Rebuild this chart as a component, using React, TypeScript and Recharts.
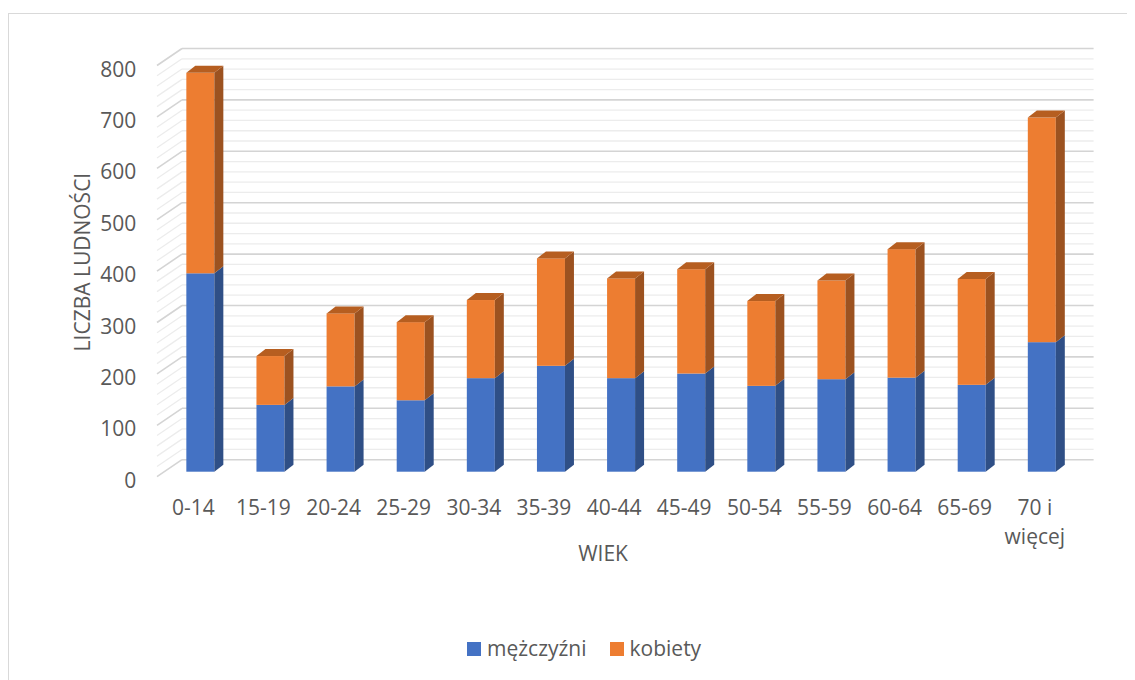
import React from 'react';
import { BarChart, Bar, XAxis, YAxis, CartesianGrid, Legend, Label } from 'recharts';

const categories = ['0-14', '15-19', '20-24', '25-29', '30-34', '35-39', '40-44', '45-49', '50-54', '55-59', '60-64', '65-69', '70 i więcej'];
const menValues = [386, 130, 166, 139, 182, 206, 182, 191, 167, 180, 183, 169, 252];
const womenValues = [390, 95, 142, 152, 152, 209, 194, 203, 165, 192, 250, 206, 437];
const seriesNames = ['mężczyźni', 'kobiety'];
const yTicks = [0, 20, 40, 60, 80, 100, 120, 140, 160, 180, 200, 220, 240, 260, 280, 300, 320, 340, 360, 380, 400, 420, 440, 460, 480, 500, 520, 540, 560, 580, 600, 620, 640, 660, 680, 700, 720, 740, 760, 780, 800];
const yLabelStep = 100;
const xTitle = 'WIEK';
const yTitle = 'LICZBA LUDNOŚCI';

const data = categories.map((c, i) => ({ age: c, men: menValues[i], women: womenValues[i] }));

const W = 1127;
const H = 672;
const FONT = "'Open Sans', sans-serif";
const TEXT = '#595959';
const BLUE = '#4472C4';
const BLUE_SIDE = '#2F4F86';
const ORANGE = '#ED7D31';
const ORANGE_SIDE = '#9C5220';
const ORANGE_TOP = '#B65E20';

const DEPTH_X = 9;
const DEPTH_Y = 7;
const WALL_DX = 16.7;
const WALL_DY = -12;
const SIDE_DX = -25;
const SIDE_DY = 17;

const makeBox = (sideColor: string, topColor: string | null) => (p: any) => {
  const { x, y, width, height, fill } = p;
  if (!height || height <= 0) return <g />;
  const r = x + width;
  return (
    <g>
      <rect x={x} y={y} width={width} height={height} fill={fill} />
      <polygon
        points={`${r},${y} ${r + DEPTH_X},${y - DEPTH_Y} ${r + DEPTH_X},${y + height - DEPTH_Y} ${r},${y + height}`}
        fill={sideColor}
      />
      {topColor && (
        <polygon
          points={`${x},${y} ${x + DEPTH_X},${y - DEPTH_Y} ${r + DEPTH_X},${y - DEPTH_Y} ${r},${y}`}
          fill={topColor}
        />
      )}
    </g>
  );
};

const gridLine = (p: any) => {
  const { x1, x2, y1, y, height, index } = p;
  const v = Math.round((((y + height - y1) / height) * 800) / 20) * 20;
  const major = v % 100 === 0;
  const stroke = major ? '#D4D4D4' : '#ECECEC';
  const sw = major ? 1.6 : 1.3;
  const by = y1 + WALL_DY;
  const bx = x1 + WALL_DX;
  return (
    <g key={`g-${index}`}>
      <line x1={bx + SIDE_DX} y1={by + SIDE_DY} x2={bx} y2={by} stroke={stroke} strokeWidth={sw} />
      <line x1={bx} y1={by} x2={x2 + WALL_DX} y2={by} stroke={stroke} strokeWidth={sw} />
    </g>
  );
};

const YTick = (p: any) => {
  const { x, y, payload } = p;
  if (payload.value % yLabelStep !== 0) return <g />;
  return (
    <text x={x - 29} y={y + 16} textAnchor="end" fill={TEXT} fontSize={21} fontFamily={FONT}>
      {payload.value}
    </text>
  );
};

const XTick = (p: any) => {
  const { x, y, payload } = p;
  const label: string = String(payload.value);
  let lines = [label];
  if (label.length > 8) {
    const k = label.lastIndexOf(' ');
    lines = [label.slice(0, k), label.slice(k + 1)];
  }
  return (
    <text x={x - 7} y={y + 43} textAnchor="middle" fill={TEXT} fontSize={21} fontFamily={FONT}>
      {lines.map((l, i) => (
        <tspan key={i} x={x - 7} dy={i === 0 ? 0 : 29}>
          {l}
        </tspan>
      ))}
    </text>
  );
};

const renderLegend = (props: any) => {
  const payload = [...(props.payload || [])].sort(
    (a: any, b: any) => seriesNames.indexOf(a.value) - seriesNames.indexOf(b.value)
  );
  return (
    <div style={{ display: 'flex', alignItems: 'center', fontFamily: FONT, fontSize: 21, color: TEXT, lineHeight: '29px' }}>
      {payload.map((e: any, i: number) => (
        <div key={i} style={{ display: 'flex', alignItems: 'center', marginRight: 23 }}>
          <span style={{ display: 'inline-block', width: 14, height: 14, background: e.color, marginRight: 6 }} />
          <span>{e.value}</span>
        </div>
      ))}
    </div>
  );
};

export default function App() {
  return (
    <div style={{ width: W, height: H, position: 'relative' }}>
      <svg width={W} height={H} style={{ position: 'absolute', left: 0, top: 0 }}>
        <rect x={0.5} y={5.5} width={W + 10} height={H + 10} fill="#FFFFFF" stroke="#D9D9D9" strokeWidth={1} />
      </svg>
      <div style={{ position: 'absolute', left: 0, top: 0 }}>
        <BarChart
          width={W}
          height={H}
          data={data}
          margin={{ top: 52.5, right: 58.1, bottom: 148.3, left: 97.3 }}
          barCategoryGap="30%"
        >
          <CartesianGrid vertical={false} horizontal={gridLine} />
          <XAxis
            dataKey="age"
            height={60}
            axisLine={false}
            tickLine={false}
            tickSize={0}
            tickMargin={0}
            interval={0}
            tick={<XTick />}
          >
            <Label
              content={(lp: any) => {
                const vb = lp.viewBox;
                return (
                  <text x={vb.x + vb.width / 2 - 18} y={vb.y + 89.5} textAnchor="middle" fill={TEXT} fontSize={21} fontFamily={FONT}>
                    {xTitle}
                  </text>
                );
              }}
            />
          </XAxis>
          <YAxis
            width={60}
            domain={[0, 800]}
            ticks={yTicks}
            interval={0}
            axisLine={false}
            tickLine={false}
            tickSize={0}
            tickMargin={0}
            tick={<YTick />}
          >
            <Label
              content={(lp: any) => {
                const vb = lp.viewBox;
                const cx = 74;
                const cy = vb.y + vb.height / 2 - 4;
                return (
                  <text x={cx} y={cy} transform={`rotate(-90 ${cx} ${cy})`} textAnchor="middle" dominantBaseline="central" fill={TEXT} fontSize={21} fontFamily={FONT}>
                    {yTitle}
                  </text>
                );
              }}
            />
          </YAxis>
          <Legend
            layout="horizontal"
            verticalAlign="middle"
            align="center"
            wrapperStyle={{ top: 626, left: 459, width: 320 }}
            content={renderLegend}
          />
          <Bar dataKey="men" name={seriesNames[0]} stackId="a" fill={BLUE} isAnimationActive={false} shape={makeBox(BLUE_SIDE, null)} />
          <Bar dataKey="women" name={seriesNames[1]} stackId="a" fill={ORANGE} isAnimationActive={false} shape={makeBox(ORANGE_SIDE, ORANGE_TOP)} />
        </BarChart>
      </div>
    </div>
  );
}
